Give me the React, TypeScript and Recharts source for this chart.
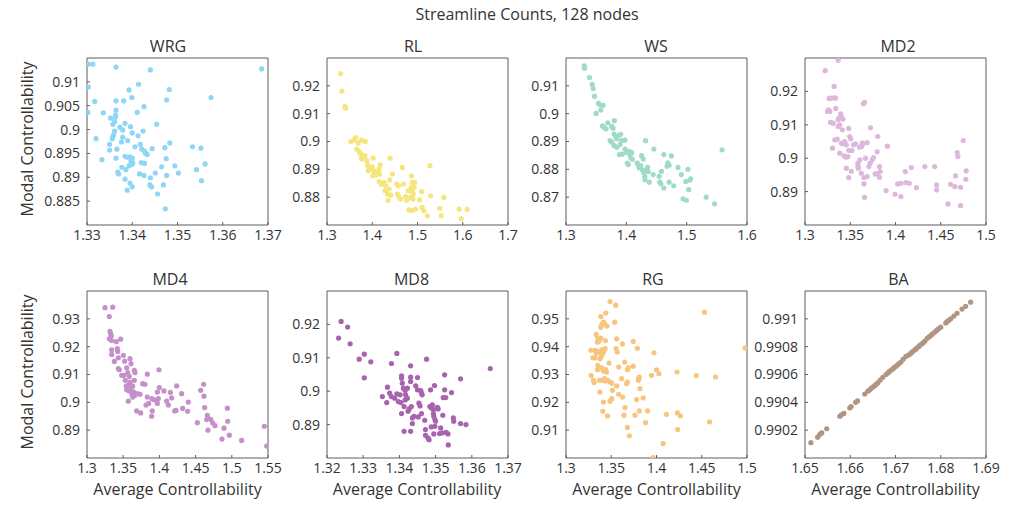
import React from "react";
import { ReferenceArea, Scatter, ScatterChart, XAxis, YAxis } from "recharts";

const FONT = "'Open Sans', sans-serif";
const TEXT = "#333333";
const FRAME = "#5c5c5c";

const TITLE = "Streamline Counts, 128 nodes";
const X_LABEL = "Average Controllability";
const Y_LABEL = "Modal Controllability";

const NAMES = ["WRG", "RL", "WS", "MD2", "MD4", "MD8", "RG", "BA"];
const COLORS = ["#8fd6f6", "#f4e57c", "#a0dcc5", "#ddb7dc", "#c590c9", "#a862ae", "#f7c57e", "#b19581"];

// [average controllability, modal controllability]
const WRG_POINTS = [
  [1.3303, 0.9137], [1.3313, 0.9137], [1.3364, 0.9131], [1.344, 0.9125], [1.3686, 0.9127], [1.3303, 0.9089],
  [1.3414, 0.9095], [1.3393, 0.9083], [1.3482, 0.9084], [1.3574, 0.9067], [1.3317, 0.9059], [1.3364, 0.906],
  [1.3381, 0.906], [1.3399, 0.9067], [1.3476, 0.9062], [1.3426, 0.9048], [1.3302, 0.9036], [1.3336, 0.9035],
  [1.3411, 0.9036], [1.3364, 0.9041], [1.3363, 0.9031], [1.3363, 0.9027], [1.3352, 0.9024], [1.3357, 0.9011],
  [1.3361, 0.9017], [1.3384, 0.9013], [1.3454, 0.9011], [1.3373, 0.9005], [1.3396, 0.9006], [1.3379, 0.8999],
  [1.3361, 0.8997], [1.3424, 0.8997], [1.34, 0.8993], [1.3359, 0.8989], [1.3357, 0.8985], [1.3413, 0.8987],
  [1.3379, 0.8984], [1.3356, 0.8981], [1.332, 0.8981], [1.339, 0.8977], [1.3376, 0.8974], [1.3418, 0.8969],
  [1.335, 0.8969], [1.3406, 0.8964], [1.3483, 0.8972], [1.3472, 0.8962], [1.3533, 0.8964], [1.3552, 0.8961],
  [1.3444, 0.896], [1.3421, 0.8959], [1.3427, 0.8955], [1.335, 0.8957], [1.3366, 0.8959], [1.3429, 0.8951],
  [1.3433, 0.8948], [1.3384, 0.8944], [1.3389, 0.8942], [1.3395, 0.8943], [1.34, 0.894], [1.3364, 0.894],
  [1.3333, 0.8937], [1.3475, 0.8939], [1.3397, 0.8933], [1.3401, 0.893], [1.342, 0.8931], [1.3427, 0.8929],
  [1.3465, 0.8922], [1.3494, 0.8924], [1.3561, 0.8928], [1.3393, 0.8924], [1.3399, 0.8927], [1.3377, 0.8921],
  [1.3386, 0.8916], [1.3542, 0.8916], [1.3368, 0.8911], [1.3451, 0.8909], [1.3502, 0.8909], [1.3416, 0.8907],
  [1.3426, 0.8904], [1.3476, 0.8904], [1.337, 0.8907], [1.344, 0.8899], [1.3384, 0.8896], [1.3553, 0.8893],
  [1.3395, 0.8888], [1.3439, 0.8884], [1.3469, 0.8884], [1.3443, 0.888], [1.34, 0.888], [1.3389, 0.8873],
  [1.3456, 0.8865], [1.3473, 0.8834],
];

const RL_POINTS = [
  [1.33, 0.9244], [1.333, 0.9181], [1.3396, 0.9125], [1.341, 0.912], [1.3528, 0.9], [1.3594, 0.9005],
  [1.3631, 0.9014], [1.369, 0.8994], [1.3763, 0.9005], [1.3844, 0.9], [1.366, 0.8972], [1.3712, 0.8964],
  [1.375, 0.8954], [1.38, 0.8945], [1.3837, 0.8949], [1.3763, 0.8937], [1.388, 0.8931], [1.3895, 0.8916],
  [1.394, 0.8907], [1.3998, 0.8909], [1.391, 0.8895], [1.3969, 0.8901], [1.4042, 0.8895], [1.402, 0.894],
  [1.4042, 0.8885], [1.4079, 0.888], [1.4116, 0.8889], [1.4152, 0.8901], [1.4174, 0.8916], [1.416, 0.8883],
  [1.4013, 0.8877], [1.4152, 0.8856], [1.4204, 0.8847], [1.4262, 0.8853], [1.4299, 0.8841], [1.4284, 0.8823],
  [1.4336, 0.8811], [1.4372, 0.8829], [1.4387, 0.8862], [1.4394, 0.894], [1.4409, 0.8807], [1.435, 0.8789],
  [1.4446, 0.8883], [1.4541, 0.8847], [1.4556, 0.8811], [1.4578, 0.8841], [1.4585, 0.8802], [1.4629, 0.8793],
  [1.4666, 0.8907], [1.4688, 0.8847], [1.474, 0.8802], [1.4762, 0.8789], [1.4791, 0.8823], [1.485, 0.8799],
  [1.4864, 0.8877], [1.4886, 0.8853], [1.4908, 0.8811], [1.4923, 0.8835], [1.4864, 0.8835], [1.4879, 0.882],
  [1.4901, 0.8793], [1.4937, 0.8853], [1.4813, 0.8754], [1.4886, 0.8753], [1.4959, 0.8757], [1.5092, 0.882],
  [1.51, 0.8763], [1.5048, 0.879], [1.5143, 0.8751], [1.5217, 0.8733], [1.5275, 0.8913], [1.529, 0.8805],
  [1.5583, 0.8799], [1.5495, 0.876], [1.5525, 0.8733], [1.592, 0.8757], [1.5965, 0.8723], [1.6097, 0.8756],
];

const WS_POINTS = [
  [1.3302, 0.9172], [1.3308, 0.9163], [1.339, 0.913], [1.3434, 0.9105], [1.345, 0.909], [1.3473, 0.9063],
  [1.3538, 0.9037], [1.3566, 0.9032], [1.35, 0.9001], [1.3615, 0.903], [1.3577, 0.9013], [1.3604, 0.8956],
  [1.3637, 0.895], [1.3665, 0.8945], [1.3692, 0.8967], [1.3758, 0.8954], [1.3802, 0.8975], [1.378, 0.8948],
  [1.3731, 0.8903], [1.3758, 0.8897], [1.3797, 0.8927], [1.3824, 0.8917], [1.384, 0.8909], [1.3868, 0.8921],
  [1.3907, 0.8926], [1.3797, 0.8885], [1.384, 0.8879], [1.3896, 0.8889], [1.3923, 0.8903], [1.3978, 0.8905],
  [1.3885, 0.8853], [1.3934, 0.8855], [1.3978, 0.8873], [1.4005, 0.8861], [1.4016, 0.8822], [1.4033, 0.8817],
  [1.4049, 0.8865], [1.406, 0.8853], [1.4088, 0.886], [1.4099, 0.8836], [1.4071, 0.8843], [1.4181, 0.8822],
  [1.4198, 0.8816], [1.4214, 0.8805], [1.4236, 0.8813], [1.4253, 0.8849], [1.428, 0.8837], [1.4269, 0.8798],
  [1.4291, 0.8788], [1.4308, 0.8774], [1.4319, 0.8903], [1.4335, 0.8798], [1.4352, 0.8807], [1.4363, 0.8792],
  [1.4379, 0.8754], [1.4308, 0.8763], [1.4445, 0.8781], [1.4456, 0.8873], [1.4544, 0.8775], [1.4555, 0.8754],
  [1.4571, 0.8748], [1.4582, 0.8793], [1.4621, 0.8733], [1.4621, 0.8853], [1.4676, 0.8811], [1.4687, 0.8823],
  [1.4709, 0.8815], [1.4747, 0.8848], [1.4709, 0.8754], [1.4786, 0.8741], [1.4857, 0.8807], [1.4912, 0.8781],
  [1.494, 0.8694], [1.4995, 0.8689], [1.4984, 0.8756], [1.5022, 0.88], [1.5049, 0.8761], [1.5033, 0.8727],
  [1.5066, 0.8766], [1.5324, 0.87], [1.5462, 0.8676], [1.5588, 0.887],
];

const MD2_POINTS = [
  [1.3223, 0.9262], [1.3366, 0.9293], [1.3322, 0.9215], [1.3267, 0.9179], [1.3293, 0.918], [1.3329, 0.9181],
  [1.3337, 0.918], [1.334, 0.9149], [1.326, 0.9145], [1.3274, 0.914], [1.3249, 0.914], [1.3282, 0.9107],
  [1.3311, 0.9105], [1.3366, 0.9115], [1.3377, 0.912], [1.3402, 0.9123], [1.342, 0.9117], [1.3395, 0.9133],
  [1.3366, 0.9095], [1.3384, 0.91], [1.3413, 0.9085], [1.3329, 0.9055], [1.3355, 0.9057], [1.3303, 0.903],
  [1.3402, 0.9045], [1.342, 0.9043], [1.3457, 0.904], [1.3439, 0.905], [1.3483, 0.9089], [1.3494, 0.9065],
  [1.3505, 0.9058], [1.3483, 0.9023], [1.3519, 0.9023], [1.3384, 0.9015], [1.3431, 0.9007], [1.3453, 0.9003],
  [1.3475, 0.9005], [1.3457, 0.897], [1.3483, 0.8942], [1.3512, 0.8961], [1.3537, 0.904], [1.3559, 0.9043],
  [1.3585, 0.8985], [1.3585, 0.8977], [1.3589, 0.897], [1.3607, 0.8995], [1.3603, 0.9033], [1.3633, 0.9045],
  [1.3625, 0.9035], [1.364, 0.9043], [1.3644, 0.9163], [1.3658, 0.9167], [1.3622, 0.8955], [1.3651, 0.8942],
  [1.3651, 0.8923], [1.3658, 0.8883], [1.3669, 0.9], [1.3687, 0.8945], [1.3687, 0.9047], [1.3706, 0.8975],
  [1.372, 0.8985], [1.3724, 0.9091], [1.3742, 0.8995], [1.3757, 0.9002], [1.3775, 0.8953], [1.3797, 0.9019],
  [1.3797, 0.8953], [1.3804, 0.9065], [1.3823, 0.8975], [1.383, 0.896], [1.3823, 0.8943], [1.3911, 0.9036],
  [1.3896, 0.8903], [1.3995, 0.8892], [1.4024, 0.8923], [1.406, 0.8885], [1.406, 0.8925], [1.4115, 0.8927],
  [1.4108, 0.896], [1.4152, 0.8925], [1.4174, 0.8972], [1.4232, 0.8912], [1.4324, 0.8975], [1.4433, 0.8975],
  [1.4455, 0.892], [1.4455, 0.8905], [1.458, 0.8863], [1.4609, 0.8922], [1.4656, 0.8915], [1.4664, 0.8947],
  [1.4682, 0.9017], [1.4689, 0.9005], [1.4719, 0.8913], [1.4719, 0.8858], [1.4748, 0.9053], [1.4781, 0.8962],
  [1.4777, 0.8937],
];

const MD4_POINTS = [
  [1.3249, 0.934], [1.3355, 0.9342], [1.3308, 0.9308], [1.3318, 0.9255], [1.3327, 0.9246], [1.3336, 0.9239],
  [1.3308, 0.9228], [1.3341, 0.9222], [1.3465, 0.9227], [1.3405, 0.9218], [1.3341, 0.9189], [1.3341, 0.9172],
  [1.3419, 0.9193], [1.3424, 0.9183], [1.3433, 0.916], [1.3378, 0.9147], [1.3502, 0.9169], [1.352, 0.9148],
  [1.3594, 0.9157], [1.3608, 0.9139], [1.3433, 0.9121], [1.3447, 0.9117], [1.3548, 0.9124], [1.3654, 0.9115],
  [1.3663, 0.9107], [1.3479, 0.9097], [1.3511, 0.9097], [1.3562, 0.9107], [1.3529, 0.9079], [1.3585, 0.9093],
  [1.3594, 0.9073], [1.3654, 0.9079], [1.3543, 0.9058], [1.3571, 0.9061], [1.3603, 0.9061], [1.3631, 0.9058],
  [1.3548, 0.9046], [1.358, 0.9041], [1.3603, 0.9049], [1.3622, 0.9029], [1.3645, 0.9037], [1.3631, 0.9019],
  [1.3659, 0.9025], [1.3571, 0.9004], [1.3695, 0.9031], [1.3732, 0.9029], [1.3769, 0.9067], [1.38, 0.9065],
  [1.3833, 0.9101], [1.3686, 0.8969], [1.3741, 0.8962], [1.3833, 0.9019], [1.3815, 0.899], [1.3852, 0.8996],
  [1.3898, 0.9013], [1.3902, 0.8969], [1.3893, 0.895], [1.3925, 0.9009], [1.3972, 0.9037], [1.3972, 0.8996],
  [1.3985, 0.9013], [1.3994, 0.9117], [1.3999, 0.9053], [1.4063, 0.9041], [1.41, 0.9004], [1.4123, 0.899],
  [1.4151, 0.9036], [1.4169, 0.9016], [1.4211, 0.8969], [1.4238, 0.9059], [1.4229, 0.8971], [1.4307, 0.9031],
  [1.4321, 0.8978], [1.439, 0.8968], [1.4399, 0.9001], [1.4524, 0.8927], [1.457, 0.9043], [1.4611, 0.9065],
  [1.4616, 0.9022], [1.4625, 0.8981], [1.4653, 0.8938], [1.4662, 0.8953], [1.4671, 0.89], [1.4708, 0.8939],
  [1.4736, 0.8926], [1.4768, 0.8916], [1.4865, 0.8868], [1.4892, 0.8907], [1.4938, 0.8979], [1.4943, 0.8932],
  [1.4966, 0.8882], [1.5136, 0.8863], [1.5449, 0.8914], [1.5482, 0.8843],
];

const MD8_POINTS = [
  [1.3239, 0.9209], [1.3257, 0.9192], [1.3232, 0.9159], [1.3264, 0.9142], [1.3289, 0.9096], [1.3303, 0.9111],
  [1.3321, 0.9088], [1.3303, 0.904], [1.3353, 0.8984], [1.3367, 0.9012], [1.3365, 0.8966], [1.3373, 0.8994],
  [1.3378, 0.9083], [1.3378, 0.8984], [1.3387, 0.8979], [1.3393, 0.9113], [1.3393, 0.8992], [1.3397, 0.8969],
  [1.3402, 0.8989], [1.3404, 0.8966], [1.3406, 0.9046], [1.3406, 0.9039], [1.3408, 0.9024], [1.3406, 0.8933],
  [1.3411, 0.9009], [1.3416, 0.9002], [1.3416, 0.8974], [1.3413, 0.8954], [1.3417, 0.8989], [1.3413, 0.888],
  [1.3422, 0.8979], [1.3422, 0.9009], [1.3424, 0.894], [1.3427, 0.8947], [1.3431, 0.9029], [1.3431, 0.9076],
  [1.3431, 0.9042], [1.3433, 0.8954], [1.3431, 0.888], [1.3436, 0.892], [1.3436, 0.8903], [1.344, 0.8925],
  [1.3445, 0.9016], [1.345, 0.9041], [1.345, 0.9004], [1.3452, 0.8923], [1.3454, 0.8964], [1.3457, 0.8956],
  [1.3459, 0.9002], [1.3461, 0.8994], [1.3463, 0.8989], [1.3461, 0.8933], [1.347, 0.8913], [1.3472, 0.8885],
  [1.3472, 0.8868], [1.3475, 0.9096], [1.3479, 0.886], [1.3482, 0.8855], [1.3484, 0.8954], [1.3486, 0.9004],
  [1.3488, 0.8893], [1.3491, 0.8959], [1.3489, 0.8949], [1.3494, 0.8945], [1.3495, 0.8925], [1.3497, 0.9017],
  [1.3495, 0.8872], [1.3494, 0.8933], [1.3498, 0.8915], [1.35, 0.891], [1.3498, 0.8895], [1.3505, 0.8952],
  [1.3507, 0.8947], [1.3511, 0.8873], [1.3514, 0.889], [1.3518, 0.8875], [1.352, 0.8928], [1.3521, 0.8981],
  [1.3525, 0.9049], [1.3525, 0.9004], [1.3528, 0.8981], [1.3529, 0.8877], [1.3534, 0.8872], [1.3535, 0.8839],
  [1.3544, 0.8996], [1.3549, 0.892], [1.355, 0.891], [1.3569, 0.9037], [1.3569, 0.8903], [1.3584, 0.89],
  [1.3651, 0.9068],
];

const RG_POINTS = [
  [1.3487, 0.9562], [1.3549, 0.9549], [1.344, 0.9521], [1.3385, 0.9508], [1.3538, 0.9488], [1.3414, 0.9488],
  [1.3425, 0.9484], [1.3396, 0.948], [1.3451, 0.9474], [1.3385, 0.947], [1.3333, 0.9444], [1.3352, 0.9428],
  [1.3385, 0.9431], [1.3436, 0.9422], [1.3348, 0.9416], [1.3366, 0.942], [1.356, 0.9428], [1.3623, 0.941],
  [1.3743, 0.9419], [1.3553, 0.9393], [1.3567, 0.9381], [1.3275, 0.9387], [1.3322, 0.9387], [1.3348, 0.9384],
  [1.3396, 0.9389], [1.3432, 0.9393], [1.3414, 0.9381], [1.3385, 0.9375], [1.3396, 0.9369], [1.3377, 0.9357],
  [1.3297, 0.936], [1.3322, 0.936], [1.3333, 0.9377], [1.3788, 0.9394], [1.3971, 0.9378], [1.3648, 0.9345],
  [1.3476, 0.9341], [1.3582, 0.9327], [1.3678, 0.9317], [1.3689, 0.9324], [1.3743, 0.933], [1.3352, 0.9333],
  [1.3396, 0.9324], [1.344, 0.9318], [1.3348, 0.9317], [1.3359, 0.9321], [1.3447, 0.9309], [1.3414, 0.9313],
  [1.3278, 0.9296], [1.3304, 0.9279], [1.3311, 0.9271], [1.337, 0.9279], [1.3407, 0.9279], [1.3425, 0.9285],
  [1.3436, 0.9277], [1.3458, 0.9279], [1.3487, 0.9273], [1.3505, 0.9269], [1.356, 0.9259], [1.3615, 0.9285],
  [1.367, 0.9267], [1.3678, 0.9273], [1.3802, 0.9285], [1.3799, 0.9279], [1.381, 0.9291], [1.3817, 0.9249],
  [1.3853, 0.9216], [1.378, 0.921], [1.3582, 0.9229], [1.3626, 0.9219], [1.3513, 0.9243], [1.3487, 0.9204],
  [1.3505, 0.9213], [1.3414, 0.9201], [1.3374, 0.9237], [1.3407, 0.9168], [1.3458, 0.9151], [1.3652, 0.9181],
  [1.3641, 0.9154], [1.3762, 0.9154], [1.381, 0.9169], [1.3901, 0.9169], [1.3879, 0.9127], [1.3678, 0.911],
  [1.37, 0.908], [1.3945, 0.9297], [1.4, 0.9317], [1.4026, 0.9303], [1.411, 0.9157], [1.4073, 0.9052],
  [1.3963, 0.9001], [1.4227, 0.9309], [1.4231, 0.9162], [1.4264, 0.9151], [1.4234, 0.9102], [1.444, 0.9296],
  [1.4531, 0.9524], [1.4586, 0.913], [1.4652, 0.9291], [1.4978, 0.9395],
];

const BA_POINTS = [
  [1.6513, 0.99011], [1.6528, 0.99015], [1.6533, 0.99017], [1.6537, 0.99018], [1.6548, 0.99021], [1.6577, 0.9903],
  [1.658, 0.99031], [1.6586, 0.99032], [1.6599, 0.99036], [1.6602, 0.99037], [1.6612, 0.9904], [1.6616, 0.99041],
  [1.6632, 0.99046], [1.6639, 0.99048], [1.6643, 0.99049], [1.6646, 0.9905], [1.665, 0.99051], [1.6654, 0.99052],
  [1.6657, 0.99053], [1.6661, 0.99054], [1.6666, 0.99056], [1.6672, 0.99058], [1.6679, 0.9906], [1.6683, 0.99061],
  [1.6686, 0.99062], [1.669, 0.99063], [1.6694, 0.99064], [1.6697, 0.99065], [1.6701, 0.99066], [1.6705, 0.99067],
  [1.6708, 0.99068], [1.6712, 0.99069], [1.6717, 0.99071], [1.6723, 0.99073], [1.6729, 0.99074], [1.6733, 0.99075],
  [1.6736, 0.99076], [1.674, 0.99077], [1.6744, 0.99078], [1.6747, 0.99079], [1.6751, 0.9908], [1.6754, 0.99081],
  [1.6758, 0.99082], [1.6762, 0.99083], [1.6765, 0.99084], [1.677, 0.99086], [1.6774, 0.99087], [1.6778, 0.99088],
  [1.6781, 0.99089], [1.6785, 0.9909], [1.6789, 0.99091], [1.6792, 0.99092], [1.6796, 0.99093], [1.68, 0.99094],
  [1.6811, 0.99097], [1.6814, 0.99098], [1.6818, 0.99099], [1.6822, 0.991], [1.6829, 0.99102], [1.6836, 0.99104],
  [1.6847, 0.99107], [1.6855, 0.99109], [1.6866, 0.99112],
];

const X_TICKS = [
  [1.33, 1.34, 1.35, 1.36, 1.37],
  [1.3, 1.4, 1.5, 1.6, 1.7],
  [1.3, 1.4, 1.5, 1.6],
  [1.3, 1.35, 1.4, 1.45, 1.5],
  [1.3, 1.35, 1.4, 1.45, 1.5, 1.55],
  [1.32, 1.33, 1.34, 1.35, 1.36, 1.37],
  [1.3, 1.35, 1.4, 1.45, 1.5],
  [1.65, 1.66, 1.67, 1.68, 1.69],
];
const Y_TICKS = [
  [0.885, 0.89, 0.895, 0.9, 0.905, 0.91],
  [0.88, 0.89, 0.9, 0.91, 0.92],
  [0.87, 0.88, 0.89, 0.9, 0.91],
  [0.89, 0.9, 0.91, 0.92],
  [0.89, 0.9, 0.91, 0.92, 0.93],
  [0.89, 0.9, 0.91, 0.92],
  [0.91, 0.92, 0.93, 0.94, 0.95],
  [0.9902, 0.9904, 0.9906, 0.9908, 0.991],
];
const X_DOMAINS = [
  [1.33, 1.37], [1.3, 1.7], [1.3, 1.6], [1.3, 1.5],
  [1.3, 1.55], [1.32, 1.37], [1.3, 1.5], [1.65, 1.69],
];
const Y_DOMAINS = [
  [0.88, 0.915], [0.87, 0.93], [0.86, 0.92], [0.88, 0.93],
  [0.88, 0.94], [0.88, 0.93], [0.9, 0.96], [0.99, 0.9912],
];
const POINTS = [WRG_POINTS, RL_POINTS, WS_POINTS, MD2_POINTS, MD4_POINTS, MD8_POINTS, RG_POINTS, BA_POINTS];

// layout (px)
const COL_LEFT = [87, 326.5, 566, 805];
const ROW_TOP = [57.5, 290.7];
const PLOT_W = 181;
const PLOT_H = 167;
const AXIS_W = 60;
const AXIS_H = 25;
const PAD_TOP = 10;
const PAD_RIGHT = 25;
const TITLE_X = [168, 413, 656, 898, 170, 411.5, 653, 898.5];

const tickStyle = { fill: TEXT, fontSize: 14, fontFamily: FONT };

function Panel({ i }: { i: number }) {
  const col = i % 4;
  const row = Math.floor(i / 4);
  const left = COL_LEFT[col];
  const top = ROW_TOP[row];
  const color = COLORS[i];
  const data = POINTS[i].map(([x, y]) => ({ x, y }));
  const [x0, x1] = X_DOMAINS[i];
  const [y0, y1] = Y_DOMAINS[i];
  return (
    <>
      <div
        style={{
          position: "absolute",
          left: TITLE_X[i] - 60,
          top: top - 21.5,
          width: 120,
          lineHeight: "20px",
          fontSize: 16,
          fontFamily: FONT,
          color: TEXT,
          textAlign: "center",
        }}
      >
        {NAMES[i]}
      </div>
      <div style={{ position: "absolute", left: left - AXIS_W, top: top - PAD_TOP }}>
        <ScatterChart
          width={AXIS_W + PLOT_W + PAD_RIGHT}
          height={PAD_TOP + PLOT_H + AXIS_H}
          margin={{ top: PAD_TOP, right: PAD_RIGHT, bottom: 0, left: 0 }}
        >
          <XAxis
            type="number"
            dataKey="x"
            domain={[x0, x1]}
            ticks={X_TICKS[i]}
            interval={0}
            allowDataOverflow
            height={AXIS_H}
            axisLine={false}
            tickLine={{ stroke: FRAME }}
            tickSize={-3}
            tickMargin={8}
            tick={tickStyle}
          />
          <YAxis
            type="number"
            dataKey="y"
            domain={[y0, y1]}
            ticks={Y_TICKS[i]}
            interval={0}
            allowDataOverflow
            width={AXIS_W}
            axisLine={false}
            tickLine={{ stroke: FRAME }}
            tickSize={-3}
            tickMargin={10}
            tick={tickStyle}
          />
          <ReferenceArea
            x1={x0}
            x2={x1}
            y1={y0}
            y2={y1}
            fill="none"
            stroke={FRAME}
            strokeWidth={1}
            ifOverflow="visible"
          />
          <Scatter
            data={data}
            fill={color}
            isAnimationActive={false}
            shape={(props: any) => <circle cx={props.cx} cy={props.cy} r={2.6} fill={color} />}
          />
        </ScatterChart>
      </div>
      {col === 0 && (
        <div
          style={{
            position: "absolute",
            left: 27 - 110,
            top: top + PLOT_H / 2 - 12,
            width: 220,
            lineHeight: "20px",
            fontSize: 16,
            fontFamily: FONT,
            color: TEXT,
            textAlign: "center",
            transform: "rotate(-90deg)",
          }}
        >
          {Y_LABEL}
        </div>
      )}
      {row === 1 && (
        <div
          style={{
            position: "absolute",
            left: left + PLOT_W / 2 - 120,
            top: 478.5,
            width: 240,
            lineHeight: "20px",
            fontSize: 16,
            fontFamily: FONT,
            color: TEXT,
            textAlign: "center",
          }}
        >
          {X_LABEL}
        </div>
      )}
    </>
  );
}

export default function App() {
  return (
    <div style={{ position: "absolute", left: 0, top: 0, width: 1015, height: 508, background: "#fff" }}>
      <div
        style={{
          position: "absolute",
          left: 527 - 200,
          top: 4,
          width: 400,
          lineHeight: "20px",
          fontSize: 16,
          fontFamily: FONT,
          color: TEXT,
          textAlign: "center",
        }}
      >
        {TITLE}
      </div>
      {NAMES.map((_, i) => (
        <Panel key={i} i={i} />
      ))}
    </div>
  );
}
